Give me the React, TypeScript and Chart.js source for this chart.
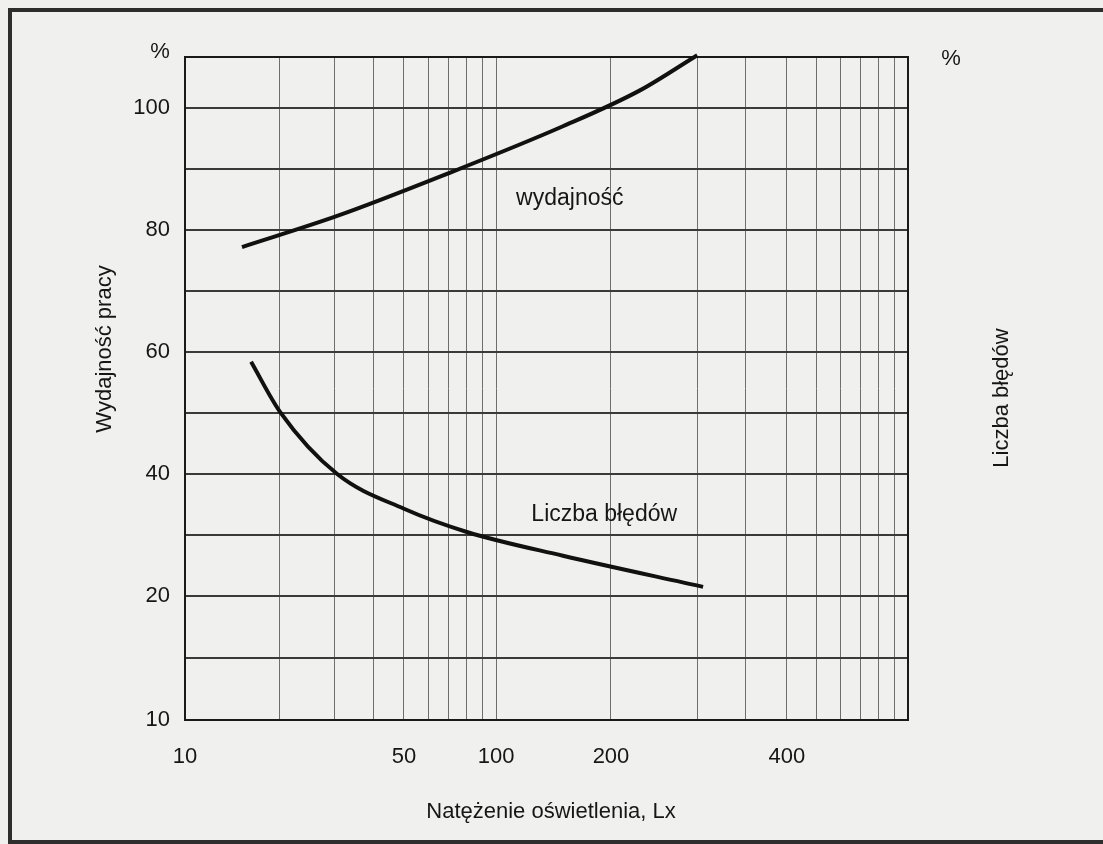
import React, { useEffect, useRef } from 'react';
import { Chart, registerables, LinearScale } from 'chart.js';

// ---- data ----
const luxWydajnosc = [15.2, 30.6, 69.1, 149.7, 228.9, 299];
const wydajnosc = [77.2, 82.3, 89.2, 97.0, 102.9, 108.7];

const luxBledy = [16.25, 20.1, 30.6, 50, 80.3, 149.7, 305];
const bledy = [58.4, 50.2, 40.0, 34.3, 30.5, 26.6, 21.5];

// ---- axes (the printed scale of the figure) ----
const xGridLux = [10, 20, 30, 40, 50, 60, 70, 80, 90, 100, 200, 300, 350, 400, 500, 600, 700, 800, 900, 1000];
const xTickLabels = [10, 50, 100, 200, 400];
const xAnchorLux = [10, 50, 100, 200, 300, 400, 1000];
const xAnchorFrac = [0, 0.3029, 0.4302, 0.5892, 0.7095, 0.8326, 1];

const yGrid = [10, 15, 20, 30, 40, 50, 60, 70, 80, 90, 100];
const yTickLabels = [10, 20, 40, 60, 80, 100];
const yAnchorVal = [10, 20, 100, 108.4];
const yAnchorFrac = [0, 0.187, 0.9231, 1];

// text label anchors in data coordinates
const labelWydajnosc = { x: 156, y: 85.1, text: 'wydajność' };
const labelBledy = { x: 192, y: 33.4, text: 'Liczba błędów' };

const FONT = "'Liberation Sans', Arial, sans-serif";
const INK = '#161616';
const BG = '#f0f0ee';

function makeMaps(vals: number[], fracs: number[], useLog: boolean) {
  const tr = (v: number) => (useLog ? Math.log(Math.max(v, 1e-9)) : v);
  const seg = (v: number) => {
    let i = 0;
    while (i < vals.length - 2 && v > vals[i + 1]) i++;
    return i;
  };
  const fwd = (v: number) => {
    const i = seg(v);
    const a = tr(vals[i]);
    const b = tr(vals[i + 1]);
    return fracs[i] + ((fracs[i + 1] - fracs[i]) * (tr(v) - a)) / (b - a);
  };
  const inv = (f: number) => {
    let i = 0;
    while (i < fracs.length - 2 && f > fracs[i + 1]) i++;
    const a = tr(vals[i]);
    const b = tr(vals[i + 1]);
    const t = a + ((b - a) * (f - fracs[i])) / (fracs[i + 1] - fracs[i]);
    return useLog ? Math.exp(t) : t;
  };
  return { fwd, inv };
}

function makeAnchoredScale(id: string, vals: number[], fracs: number[], useLog: boolean) {
  const m = makeMaps(vals, fracs, useLog);
  class AnchoredScale extends (LinearScale as any) {
    static id = id;
    static defaults = (LinearScale as any).defaults;
    getPixelForValue(value: number) {
      return (this as any).getPixelForDecimal(m.fwd(value));
    }
    getValueForPixel(pixel: number) {
      return m.inv((this as any).getDecimalForPixel(pixel));
    }
  }
  return AnchoredScale;
}

const XScale = makeAnchoredScale('anchoredX', xAnchorLux, xAnchorFrac, true);
const YScale = makeAnchoredScale('anchoredY', yAnchorVal, yAnchorFrac, false);

Chart.register(...registerables, XScale as any, YScale as any);

const decorPlugin = {
  id: 'decor',
  beforeDraw(chart: any) {
    const { ctx, width, height } = chart;
    ctx.save();
    ctx.fillStyle = BG;
    ctx.fillRect(0, 0, width, height);
    // outer frame of the scanned figure
    ctx.fillStyle = '#2e2e2e';
    ctx.fillRect(8, 8, width - 8, 4);
    ctx.fillRect(8, 8, 4, height - 8 - 3);
    ctx.fillRect(8, height - 4, width - 8, 4);
    ctx.restore();
  },
  beforeDatasetsDraw(chart: any) {
    const { ctx, chartArea: a } = chart;
    ctx.save();
    ctx.strokeStyle = '#1a1a1a';
    ctx.lineWidth = 2;
    ctx.strokeRect(a.left, a.top, a.right - a.left, a.bottom - a.top);
    ctx.restore();
  },
  afterDraw(chart: any) {
    const { ctx } = chart;
    const xs = chart.scales.x;
    const ys = chart.scales.y;
    ctx.save();
    ctx.fillStyle = INK;
    ctx.textAlign = 'center';
    ctx.textBaseline = 'middle';
    ctx.font = `22px ${FONT}`;
    ctx.fillText('%', 160, 52);
    ctx.fillText('%', 951, 59);
    ctx.fillText('Natężenie oświetlenia, Lx', 551, 812);

    ctx.save();
    ctx.translate(105, 349);
    ctx.rotate(-Math.PI / 2);
    ctx.fillText('Wydajność pracy', 0, 0);
    ctx.restore();

    ctx.save();
    ctx.translate(1002, 398);
    ctx.rotate(-Math.PI / 2);
    ctx.fillText('Liczba błędów', 0, 0);
    ctx.restore();

    ctx.font = `23px ${FONT}`;
    for (const l of [labelWydajnosc, labelBledy]) {
      ctx.fillText(l.text, xs.getPixelForValue(l.x), ys.getPixelForValue(l.y));
    }
    ctx.restore();
  },
};

export default function App() {
  const ref = useRef<HTMLCanvasElement>(null);

  useEffect(() => {
    const canvas = ref.current;
    if (!canvas) return;
    const lineStyle = {
      borderColor: '#111111',
      borderWidth: 4,
      pointRadius: 0,
      fill: false,
      cubicInterpolationMode: 'monotone' as const,
      borderCapStyle: 'butt' as const,
      clip: false as any,
    };
    const chart = new Chart(canvas, {
      type: 'line',
      data: {
        datasets: [
          {
            label: 'wydajność',
            data: luxWydajnosc.map((x, i) => ({ x, y: wydajnosc[i] })),
            ...lineStyle,
          },
          {
            label: 'Liczba błędów',
            data: luxBledy.map((x, i) => ({ x, y: bledy[i] })),
            ...lineStyle,
          },
        ],
      },
      options: {
        responsive: false,
        animation: false,
        devicePixelRatio: 1,
        layout: { padding: { left: 0, top: 57, right: 195, bottom: 0 } },
        plugins: { legend: { display: false }, tooltip: { enabled: false } },
        scales: {
          x: {
            type: 'anchoredX' as any,
            position: 'bottom',
            min: 10,
            max: 1000,
            afterBuildTicks: (s: any) => {
              s.ticks = xGridLux.map((v) => ({ value: v }));
            },
            afterFit: (s: any) => {
              s.height = 124;
            },
            grid: { color: '#6e6e6e', lineWidth: 1, drawTicks: false },
            border: { display: false },
            ticks: {
              autoSkip: false,
              maxRotation: 0,
              padding: 24,
              color: INK,
              font: { family: FONT, size: 22 },
              callback: (v: any) => (xTickLabels.includes(Number(v)) ? String(v) : ''),
            },
          } as any,
          y: {
            type: 'anchoredY' as any,
            position: 'left',
            min: 10,
            max: 108.4,
            afterBuildTicks: (s: any) => {
              s.ticks = yGrid.map((v) => ({ value: v }));
            },
            afterFit: (s: any) => {
              s.width = 185;
            },
            grid: { color: '#3a3a3a', lineWidth: 2, drawTicks: false },
            border: { display: false },
            ticks: {
              autoSkip: false,
              padding: 15,
              color: INK,
              font: { family: FONT, size: 22 },
              callback: (v: any) => (yTickLabels.includes(Number(v)) ? String(v) : ''),
            },
          } as any,
        },
      },
      plugins: [decorPlugin],
    });
    return () => chart.destroy();
  }, []);

  return (
    <div style={{ position: 'fixed', left: 0, top: 0, width: 1103, height: 844, background: BG, overflow: 'hidden' }}>
      <canvas ref={ref} width={1103} height={844} style={{ width: 1103, height: 844, display: 'block' }} />
    </div>
  );
}
